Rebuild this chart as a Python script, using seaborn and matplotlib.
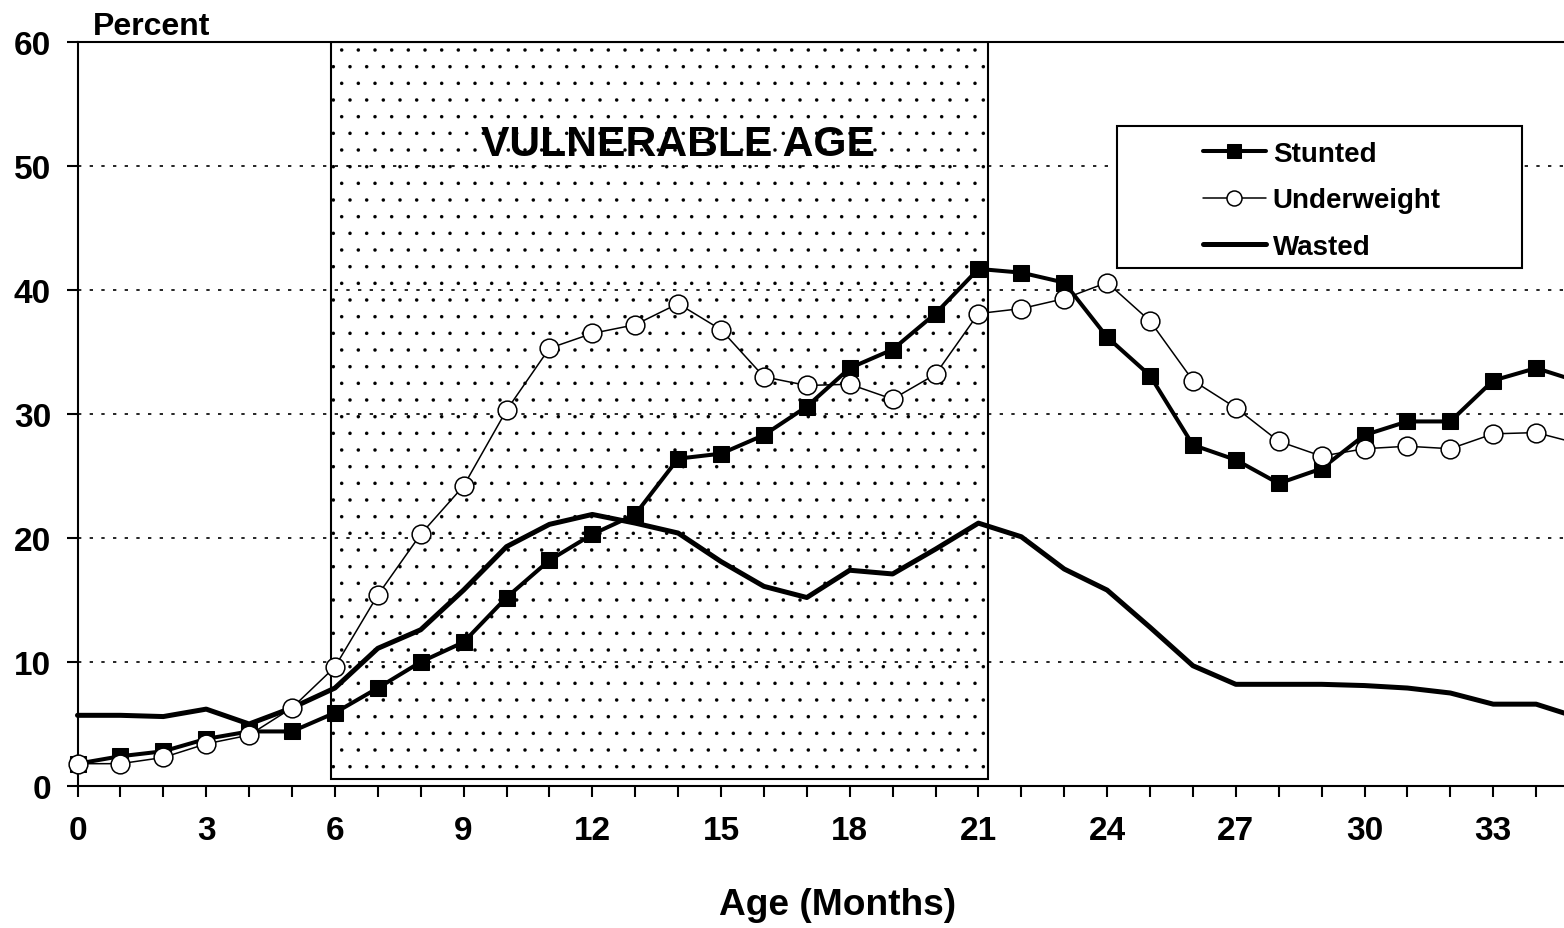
import matplotlib
matplotlib.use("Agg")
import matplotlib.pyplot as plt
import seaborn as sns
import pandas as pd
from matplotlib.patches import Rectangle

# ---- data ----
months = list(range(0, 36))
stunted = [1.8, 2.4, 2.8, 3.8, 4.4, 4.4, 5.9, 7.9, 10.0, 11.6, 15.2, 18.2, 20.3, 21.9,
           26.4, 26.8, 28.3, 30.6, 33.7, 35.2, 38.1, 41.7, 41.4, 40.6, 36.2, 33.1, 27.5,
           26.3, 24.4, 25.6, 28.3, 29.4, 29.4, 32.7, 33.7, 32.6]
underweight = [1.8, 1.8, 2.3, 3.4, 4.1, 6.3, 9.6, 15.4, 20.3, 24.2, 30.3, 35.3, 36.5, 37.2,
               38.9, 36.8, 33.0, 32.3, 32.4, 31.2, 33.2, 38.1, 38.5, 39.3, 40.6, 37.5, 32.7,
               30.5, 27.8, 26.6, 27.2, 27.4, 27.2, 28.4, 28.5, 27.6]
wasted = [5.7, 5.7, 5.6, 6.2, 5.0, 6.3, 7.9, 11.1, 12.6, 15.8, 19.3, 21.1, 21.9, 21.2,
          20.4, 18.1, 16.1, 15.2, 17.4, 17.1, 19.1, 21.2, 20.1, 17.5, 15.8, 12.8, 9.7,
          8.2, 8.2, 8.2, 8.1, 7.9, 7.5, 6.6, 6.6, 5.5]
vulnerable_start, vulnerable_end = 5.9, 21.22
vulnerable_bottom = 0.6
y_ticks = [0, 10, 20, 30, 40, 50, 60]
x_ticks = list(range(0, 34, 3))

df = pd.DataFrame({"Age": months, "Stunted": stunted,
                   "Underweight": underweight, "Wasted": wasted})

sns.set_style("ticks")
plt.rcParams["font.family"] = ["Liberation Sans", "DejaVu Sans"]
plt.rcParams["font.weight"] = "bold"
plt.rcParams["text.color"] = "black"
plt.rcParams["axes.labelcolor"] = "black"
plt.rcParams["xtick.color"] = "black"
plt.rcParams["ytick.color"] = "black"
plt.rcParams["hatch.linewidth"] = 0.1
plt.rcParams["hatch.color"] = "#7a7a7a"

fig = plt.figure(figsize=(15.64, 9.29), dpi=100)
ax = fig.add_axes([77.5 / 1564, 1 - 787 / 929, 1486.5 / 1564, 744 / 929])

# vulnerable age shaded box
rect = Rectangle((vulnerable_start, vulnerable_bottom),
                 vulnerable_end - vulnerable_start, 60 - vulnerable_bottom,
                 facecolor="white", edgecolor="black", hatch=".", linewidth=1.5,
                 zorder=0.5)
ax.add_patch(rect)
if hasattr(rect, "set_hatchcolor"):
    rect.set_hatchcolor("#7a7a7a")

sns.lineplot(data=df, x="Age", y="Stunted", ax=ax, color="black", linewidth=2.9,
             marker="s", markersize=12, markerfacecolor="black",
             markeredgecolor="black", label="Stunted", clip_on=False, zorder=5)
sns.lineplot(data=df, x="Age", y="Underweight", ax=ax, color="black", linewidth=1.1,
             marker="o", markersize=13.5, markerfacecolor="white",
             markeredgecolor="black", markeredgewidth=1.1, label="Underweight",
             clip_on=False, zorder=6)
sns.lineplot(data=df, x="Age", y="Wasted", ax=ax, color="black", linewidth=3.6,
             label="Wasted", clip_on=False, zorder=4)

ax.set_xlim(0, 34.65)
ax.set_ylim(0, 60)
ax.set_yticks(y_ticks)
ax.set_xticks(x_ticks)
ax.set_xticks(months[:35], minor=True)
ax.tick_params(axis="both", which="both", direction="out", length=8, width=1.5,
               color="black", labelsize=24, labelcolor="black")
ax.tick_params(axis="x", which="both", pad=13)
ax.tick_params(axis="y", pad=11)
for lab in ax.get_xticklabels() + ax.get_yticklabels():
    lab.set_fontweight("bold")

ax.yaxis.grid(True, linestyle=(0, (2, 5)), color="black", linewidth=1.2, zorder=1)
ax.set_axisbelow(True)
ax.set_xlabel("")
ax.set_ylabel("")

for s in ["left", "bottom", "top"]:
    ax.spines[s].set_visible(True)
    ax.spines[s].set_linewidth(1.5)
    ax.spines[s].set_color("black")
ax.spines["right"].set_visible(False)

ax.text(14.0, 50.85, "VULNERABLE AGE", ha="center", va="baseline",
        fontsize=30.7, fontweight="bold", color="black", zorder=7)
ax.text(0.0104, 1.0108, "Percent", transform=ax.transAxes, ha="left",
        va="baseline", fontsize=23, fontweight="bold", color="black")
fig.text(837.5 / 1564, 1 - 915 / 929, "Age (Months)", ha="center", va="baseline",
         fontsize=26.7, fontweight="bold", color="black")

# legend box
box = Rectangle((0.699, 0.6958), 0.273, 0.1917, transform=ax.transAxes,
                facecolor="white", edgecolor="black", linewidth=1.5, zorder=8)
ax.add_patch(box)
leg = ax.legend(loc="center left", bbox_to_anchor=(0.7476, 0.7873), frameon=False,
                borderpad=0, handlelength=2.27, handletextpad=0.25,
                labelspacing=0.74, markerscale=0.8,
                prop={"size": 20, "weight": "bold"})
for t in leg.get_texts():
    t.set_color("black")
leg.set_zorder(9)

fig.savefig("out.png", dpi=100)
